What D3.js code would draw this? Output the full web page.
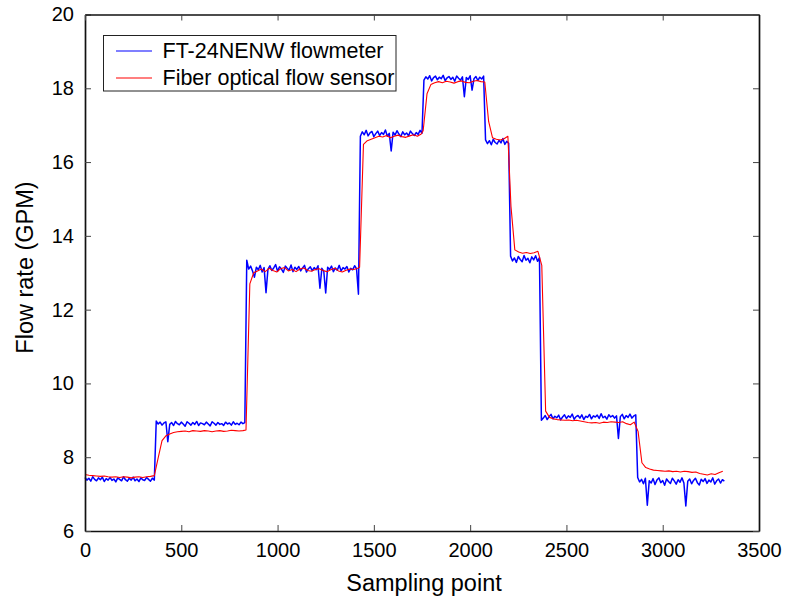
<!DOCTYPE html>
<html>
<head>
<meta charset="utf-8">
<script src="https://cdn.jsdelivr.net/npm/d3@7"></script>
<style>
  html, body { margin: 0; padding: 0; background: #fff; }
  svg { display: block; font-family: "Liberation Sans", Arial, sans-serif; }
</style>
</head>
<body>
<svg id="chart" width="785" height="600"></svg>
<script>
// Axis ticks
const xTicks = [0, 500, 1000, 1500, 2000, 2500, 3000, 3500];
const yTicks = [6, 8, 10, 12, 14, 16, 18, 20];

// Series names
const seriesNames = ["FT-24NENW flowmeter", "Fiber optical flow sensor"];

// FT-24NENW flowmeter readings (GPM), one run per flow setting, every 10 samples
const meterStep = 10;
const meterStarts = [0, 370, 840, 1430, 1760, 2080, 2210, 2370, 2870];
const meterA = [7.45,7.38,7.43,7.35,7.47,7.40,7.36,7.44,7.39,7.46,7.34,7.42,7.38,7.45,7.37,7.41,7.33,7.44,7.40,7.36,7.47,7.39,7.35,7.43,7.38,7.46,7.36,7.41,7.34,7.44,7.39,7.37,7.45,7.40,7.35,7.43,7.38];
const meterB = [8.98,8.90,8.95,8.87,8.93,8.96,8.42,8.89,8.94,8.86,8.97,8.91,8.88,8.95,8.90,8.84,8.96,8.92,8.87,8.94,8.89,8.97,8.86,8.93,8.91,8.88,8.95,8.90,8.85,8.96,8.92,8.87,8.94,8.89,8.91,8.86,8.95,8.90,8.93,8.87,8.96,8.89,8.92,8.88,8.95,8.91,8.94];
const meterC = [13.34,13.10,13.18,13.05,12.88,13.15,13.08,13.20,13.02,13.14,12.46,13.09,13.19,13.06,13.13,13.22,13.04,13.16,13.10,13.01,13.18,13.12,13.07,13.21,13.03,13.15,13.09,13.17,13.05,13.13,13.20,13.02,13.11,13.16,13.06,13.14,13.08,13.19,12.58,13.12,13.04,12.45,13.15,13.09,13.18,13.03,13.13,13.07,13.20,13.05,13.14,13.10,13.17,13.02,13.12,13.08,13.19,13.11,12.42];
const meterD = [16.70,16.82,16.74,16.86,16.71,16.79,16.83,16.69,16.77,16.84,16.72,16.80,16.75,16.87,16.70,16.78,16.30,16.81,16.73,16.85,16.76,16.69,16.82,16.74,16.79,16.71,16.84,16.77,16.72,16.80,16.75,16.86,16.78];
const meterE = [18.22,18.31,18.25,18.34,18.20,18.29,18.33,18.23,18.30,18.26,18.35,18.21,18.28,18.32,18.24,18.30,18.19,18.33,18.27,18.22,18.31,17.77,18.29,18.24,18.34,17.95,18.26,18.32,18.21,18.30,18.25,18.33];
const meterF = [16.60,16.50,16.58,16.47,16.62,16.53,16.49,16.59,16.52,16.64,16.48,16.56,16.51];
const meterG = [13.45,13.32,13.40,13.28,13.44,13.36,13.30,13.47,13.34,13.39,13.27,13.43,13.35,13.46,13.31,13.41];
const meterH = [9.00,9.06,9.13,9.02,9.10,9.16,9.04,9.11,9.07,9.14,9.01,9.09,9.15,9.05,9.12,9.08,9.17,9.03,9.10,9.13,9.06,9.15,9.02,9.11,9.08,9.16,9.04,9.12,9.09,9.14,9.05,9.18,9.07,9.11,9.03,9.15,9.09,9.13,9.06,9.12,8.51,9.10,9.16,9.04,9.13,9.08,9.17,9.06,9.12,9.15];
const meterI = [7.45,7.33,7.40,7.28,7.43,6.70,7.36,7.30,7.42,7.26,7.38,7.44,7.31,7.37,7.24,7.41,7.34,7.29,7.43,7.36,7.27,7.39,7.32,7.44,7.30,6.68,7.35,7.41,7.28,7.37,7.43,7.31,7.25,7.40,7.34,7.42,7.29,7.38,7.33,7.44,7.27,7.36,7.41,7.30,7.39,7.35];
const meterRuns = [meterA, meterB, meterC, meterD, meterE, meterF, meterG, meterH, meterI];

// Fiber optical flow sensor readings (GPM), every 20 samples
const sensorStep = 20;
const sensorStarts = [0, 380, 836, 1426, 1756, 2096, 2212, 2392, 2872];
const sensorA = [7.53,7.51,7.50,7.49,7.48,7.49,7.47,7.46,7.47,7.45,7.47,7.46,7.44,7.46,7.47,7.45,7.47,7.48,7.50];
const sensorB = [7.98,8.45,8.58,8.63,8.67,8.69,8.70,8.71,8.69,8.72,8.71,8.70,8.72,8.71,8.69,8.71,8.72,8.70,8.71,8.73,8.72,8.71,8.72];
const sensorC = [8.74,12.70,13.00,13.05,13.10,13.03,13.12,13.06,13.02,13.11,13.14,13.05,13.09,13.03,13.10,13.13,13.06,13.04,13.09,13.11,13.06,13.03,13.08,13.12,13.05,13.02,13.07,13.10,13.09,13.12];
const sensorD = [13.15,16.48,16.58,16.62,16.66,16.70,16.68,16.72,16.66,16.70,16.73,16.69,16.67,16.71,16.74,16.70,16.76];
const sensorE = [16.85,17.85,18.10,18.15,18.18,18.15,18.19,18.17,18.14,18.18,18.20,18.16,18.15,18.19,18.21,18.18,18.17];
const sensorF = [17.10,16.66,16.62,16.60,16.63,16.70];
const sensorG = [14.80,13.62,13.56,13.53,13.55,13.52,13.54,13.58,13.20];
const sensorH = [9.25,9.08,9.04,9.02,9.01,9.00,9.01,8.99,9.00,8.98,8.96,8.94,8.93,8.94,8.92,8.95,8.94,8.96,8.95,8.94,8.96,8.91,8.88,8.95];
const sensorI = [8.70,7.85,7.72,7.68,7.65,7.64,7.63,7.62,7.63,7.61,7.62,7.60,7.62,7.61,7.59,7.60,7.56,7.54,7.52,7.55,7.53,7.58,7.62];
const sensorRuns = [sensorA, sensorB, sensorC, sensorD, sensorE, sensorF, sensorG, sensorH, sensorI];

// Turn runs into (sample, value) points
function toPoints(runs, starts, step) {
  const pts = [];
  runs.forEach((run, i) => {
    run.forEach((v, j) => pts.push({ s: starts[i] + j * step, v }));
  });
  return pts;
}
const meterPoints = toPoints(meterRuns, meterStarts, meterStep);
const sensorPoints = toPoints(sensorRuns, sensorStarts, sensorStep);

const svg = d3.select("#chart");
const plotLeft = 85, plotRight = 759, plotTop = 14.5, plotBottom = 531;

const x = d3.scaleLinear().domain([0, 3500]).range([plotLeft, plotRight]);
const y = d3.scaleLinear().domain([6, 20]).range([plotBottom, plotTop]);

const traceLine = d3.line().x(d => x(d.s)).y(d => y(d.v));

// Traces
const plot = svg.append("g");
plot.append("path").datum(meterPoints)
  .attr("d", traceLine).attr("fill", "none")
  .attr("stroke", "#0000ff").attr("stroke-width", 1.5)
  .attr("stroke-linejoin", "round");
plot.append("path").datum(sensorPoints)
  .attr("d", traceLine).attr("fill", "none")
  .attr("stroke", "#ff0000").attr("stroke-width", 1.1)
  .attr("stroke-linejoin", "round");

// Axes (ticks point inward, box on all four sides)
const tickFont = 20;
const tickFmt = d3.format("d");
function styleAxis(g) {
  g.select(".domain").attr("stroke", "#111").attr("stroke-width", 1.7);
  g.selectAll(".tick line").attr("stroke", "#444").attr("stroke-width", 1);
  g.selectAll(".tick text").attr("fill", "#000")
    .style("font-family", "'Liberation Sans', Arial, sans-serif")
    .style("font-size", tickFont + "px");
}

svg.append("g").attr("transform", `translate(0,${plotBottom})`)
  .call(d3.axisBottom(x).tickValues(xTicks).tickFormat(tickFmt).tickSizeInner(-6).tickSizeOuter(0).tickPadding(12))
  .call(styleAxis);
svg.append("g").attr("transform", `translate(${plotLeft},0)`)
  .call(d3.axisLeft(y).tickValues(yTicks).tickFormat(tickFmt).tickSizeInner(-6).tickSizeOuter(0).tickPadding(11))
  .call(styleAxis);
svg.append("g").attr("transform", `translate(0,${plotTop})`)
  .call(d3.axisTop(x).tickValues(xTicks).tickSizeInner(-6).tickSizeOuter(0).tickFormat(""))
  .call(styleAxis);
svg.append("g").attr("transform", `translate(${plotRight},0)`)
  .call(d3.axisRight(y).tickValues(yTicks).tickSizeInner(-6).tickSizeOuter(0).tickFormat(""))
  .call(styleAxis);

// Axis titles
svg.append("text")
  .attr("x", 424).attr("y", 591)
  .attr("text-anchor", "middle")
  .style("font-size", "23.5px")
  .text("Sampling point");
svg.append("text")
  .attr("transform", "translate(33,267.5) rotate(-90)")
  .attr("text-anchor", "middle")
  .style("font-size", "23.5px")
  .text("Flow rate (GPM)");

// Legend
const legend = svg.append("g");
legend.append("rect")
  .attr("x", 103.5).attr("y", 35.5).attr("width", 292.5).attr("height", 55.5)
  .attr("fill", "#fff").attr("stroke", "#222").attr("stroke-width", 1);
const legendColors = ["#0000ff", "#ff0000"];
const legendRows = [51, 78];
seriesNames.forEach((name, i) => {
  legend.append("line")
    .attr("x1", 116).attr("x2", 152)
    .attr("y1", legendRows[i]).attr("y2", legendRows[i])
    .attr("stroke", legendColors[i]).attr("stroke-width", 1.2);
  legend.append("text")
    .attr("x", 162.5).attr("y", legendRows[i] + 7.3)
    .style("font-size", "21.5px")
    .text(name);
});
</script>
</body>
</html>
